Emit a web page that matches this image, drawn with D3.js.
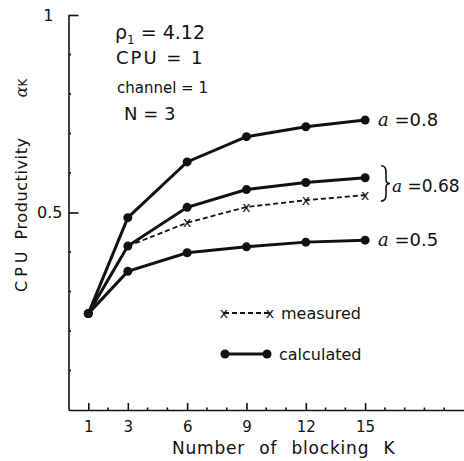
<!DOCTYPE html>
<meta charset="utf-8">
<style>
    body { margin: 0; background: #fff; }
    text { font-family: "DejaVu Sans", sans-serif; fill: #111; }
    .axis path, .axis line { stroke: #111; stroke-width: 1.6; }
    .axis text { font-size: 15px; }
    .calc { fill: none; stroke: #111; stroke-width: 3; }
    .meas { fill: none; stroke: #111; stroke-width: 1.8; stroke-dasharray: 5,3; }
</style>
<svg width="464" height="461"></svg>
<script src="https://d3js.org/d3.v7.min.js"></script>
<script>
    var svg = d3.select('svg');

    // blocking factor K
    var blocks = [1, 3, 6, 9, 12, 15];
    var measBlocks = [3, 6, 9, 12, 15];
    // CPU productivity
    var calc08 = [0.244, 0.487, 0.628, 0.692, 0.717, 0.734];
    var calc068 = [0.244, 0.415, 0.513, 0.558, 0.576, 0.588];
    var calc05 = [0.244, 0.351, 0.398, 0.413, 0.425, 0.430];
    var meas068 = [0.415, 0.474, 0.514, 0.531, 0.544];
    var yTicks = [0.5, 1];
    var yMinor = [0.1, 0.2, 0.3, 0.4, 0.6, 0.7, 0.8, 0.9];
    var xMinor = [2, 4, 5, 7, 8, 10, 11, 13, 14, 16, 17, 18, 19];

    var x = d3.scaleLinear().domain([0, 20]).range([68.5, 464]),
        y = d3.scaleLinear().domain([0, 1]).range([410, 15]);

    // x axis, ticks pointing up into the plot
    var gx = svg.append('g')
        .attr('class', 'axis')
        .attr('transform', 'translate(0,' + y(0) + ')')
        .call(d3.axisBottom(x).tickValues(blocks).tickSizeInner(-7).tickSizeOuter(0).tickPadding(11));
    gx.selectAll('.tick text').style('font-size', '15px');
    gx.selectAll('.minor')
        .data(xMinor)
        .enter().append('line')
        .attr('x1', d => x(d)).attr('x2', d => x(d))
        .attr('y1', 0).attr('y2', -2.5)
        .attr('stroke', '#111').attr('stroke-width', 1);

    // y axis, ticks pointing right
    var gy = svg.append('g')
        .attr('class', 'axis')
        .attr('transform', 'translate(' + x(0) + ',0)')
        .call(d3.axisLeft(y).tickValues(yTicks).tickSizeInner(-10).tickSizeOuter(0).tickPadding(6)
            .tickFormat(d => d === 1 ? '1' : '0.5'));
    gy.selectAll('.tick text').style('font-size', '16px');
    gy.selectAll('.tick').filter(d => d === 1).select('text').attr('x', -15);
    gy.selectAll('.minor')
        .data(yMinor)
        .enter().append('line')
        .attr('y1', d => y(d)).attr('y2', d => y(d))
        .attr('x1', 0).attr('x2', 2.5)
        .attr('stroke', '#111').attr('stroke-width', 1);

    var line = d3.line().x(d => x(d[0])).y(d => y(d[1]));

    [calc08, calc068, calc05].forEach(function (vals) {
        var pts = blocks.map((b, i) => [b, vals[i]]);
        svg.append('path').attr('class', 'calc').attr('d', line(pts));
        svg.selectAll(null)
            .data(pts)
            .enter().append('circle')
            .attr('cx', d => x(d[0])).attr('cy', d => y(d[1]))
            .attr('r', 4.5).attr('fill', '#111');
    });

    var mpts = measBlocks.map((b, i) => [b, meas068[i]]);
    svg.append('path').attr('class', 'meas').attr('d', line(mpts));
    svg.selectAll(null)
        .data(mpts.slice(1))
        .enter().append('text')
        .attr('x', d => x(d[0])).attr('y', d => y(d[1]))
        .attr('dy', '0.33em')
        .attr('text-anchor', 'middle')
        .style('font-size', '14px')
        .text('x');

    // curve labels
    var lab = svg.append('g').style('font-size', '18px');
    lab.append('text').attr('x', 378).attr('y', y(0.734) + 6)
        .html('<tspan font-family="DejaVu Serif" font-style="italic">a</tspan> =0.8');
    lab.append('text').attr('x', 392).attr('y', y(0.566) + 6).style('font-size', '17px')
        .html('<tspan font-family="DejaVu Serif" font-style="italic">a</tspan> =0.68');
    lab.append('text').attr('x', 378).attr('y', y(0.430) + 6)
        .html('<tspan font-family="DejaVu Serif" font-style="italic">a</tspan> =0.5');

    // brace joining the two a=0.68 curves
    var by0 = y(calc068[5]) - 12, by1 = y(meas068[4]) + 6, bm = (by0 + by1) / 2;
    svg.append('path')
        .attr('d', 'M381,' + by0 + ' Q386,' + by0 + ' 386,' + (by0 + 6) +
            ' L386,' + (bm - 4) + ' Q386,' + bm + ' 390,' + bm +
            ' Q386,' + bm + ' 386,' + (bm + 4) +
            ' L386,' + (by1 - 6) + ' Q386,' + by1 + ' 381,' + by1)
        .attr('fill', 'none').attr('stroke', '#111').attr('stroke-width', 1.6);

    // parameters
    var par = svg.append('g');
    par.append('text').attr('x', 115).attr('y', 39).style('font-size', '19px')
        .html('ρ<tspan dy="5" font-size="12">1</tspan><tspan dy="-5"> = 4.12</tspan>');
    par.append('text').attr('x', 116).attr('y', 64).style('font-size', '18px')
        .style('letter-spacing', '2px').text('CPU = 1');
    par.append('text').attr('x', 117).attr('y', 93).style('font-size', '15px')
        .text('channel = 1');
    par.append('text').attr('x', 124).attr('y', 120).style('font-size', '18px')
        .text('N = 3');

    // legend
    var leg = svg.append('g');
    leg.append('line').attr('x1', 224).attr('x2', 270).attr('y1', 313).attr('y2', 313)
        .attr('class', 'meas');
    leg.selectAll(null).data([224, 270]).enter().append('text')
        .attr('x', d => d).attr('y', 313).attr('dy', '0.33em')
        .attr('text-anchor', 'middle').style('font-size', '14px').text('x');
    leg.append('text').attr('x', 281).attr('y', 319).style('font-size', '16px').text('measured');
    leg.append('line').attr('x1', 225).attr('x2', 267).attr('y1', 354).attr('y2', 354)
        .attr('class', 'calc');
    leg.selectAll(null).data([225, 267]).enter().append('circle')
        .attr('cx', d => d).attr('cy', 354).attr('r', 4.5).attr('fill', '#111');
    leg.append('text').attr('x', 279).attr('y', 360).style('font-size', '16px').text('calculated');

    // axis titles
    svg.append('text').attr('x', 172).attr('y', 454).style('font-size', '17px')
        .style('letter-spacing', '0.8px').style('word-spacing', '8px')
        .text('Number of blocking  K');
    svg.append('text')
        .attr('transform', 'translate(27,292) rotate(-90)')
        .style('font-size', '16px')
        .html('<tspan letter-spacing="4px">CPU</tspan><tspan dx="8" letter-spacing="0.6px">Productivity</tspan><tspan dx="40" font-family="DejaVu Serif" font-style="italic">α</tspan><tspan font-size="12">K</tspan>');
</script>
